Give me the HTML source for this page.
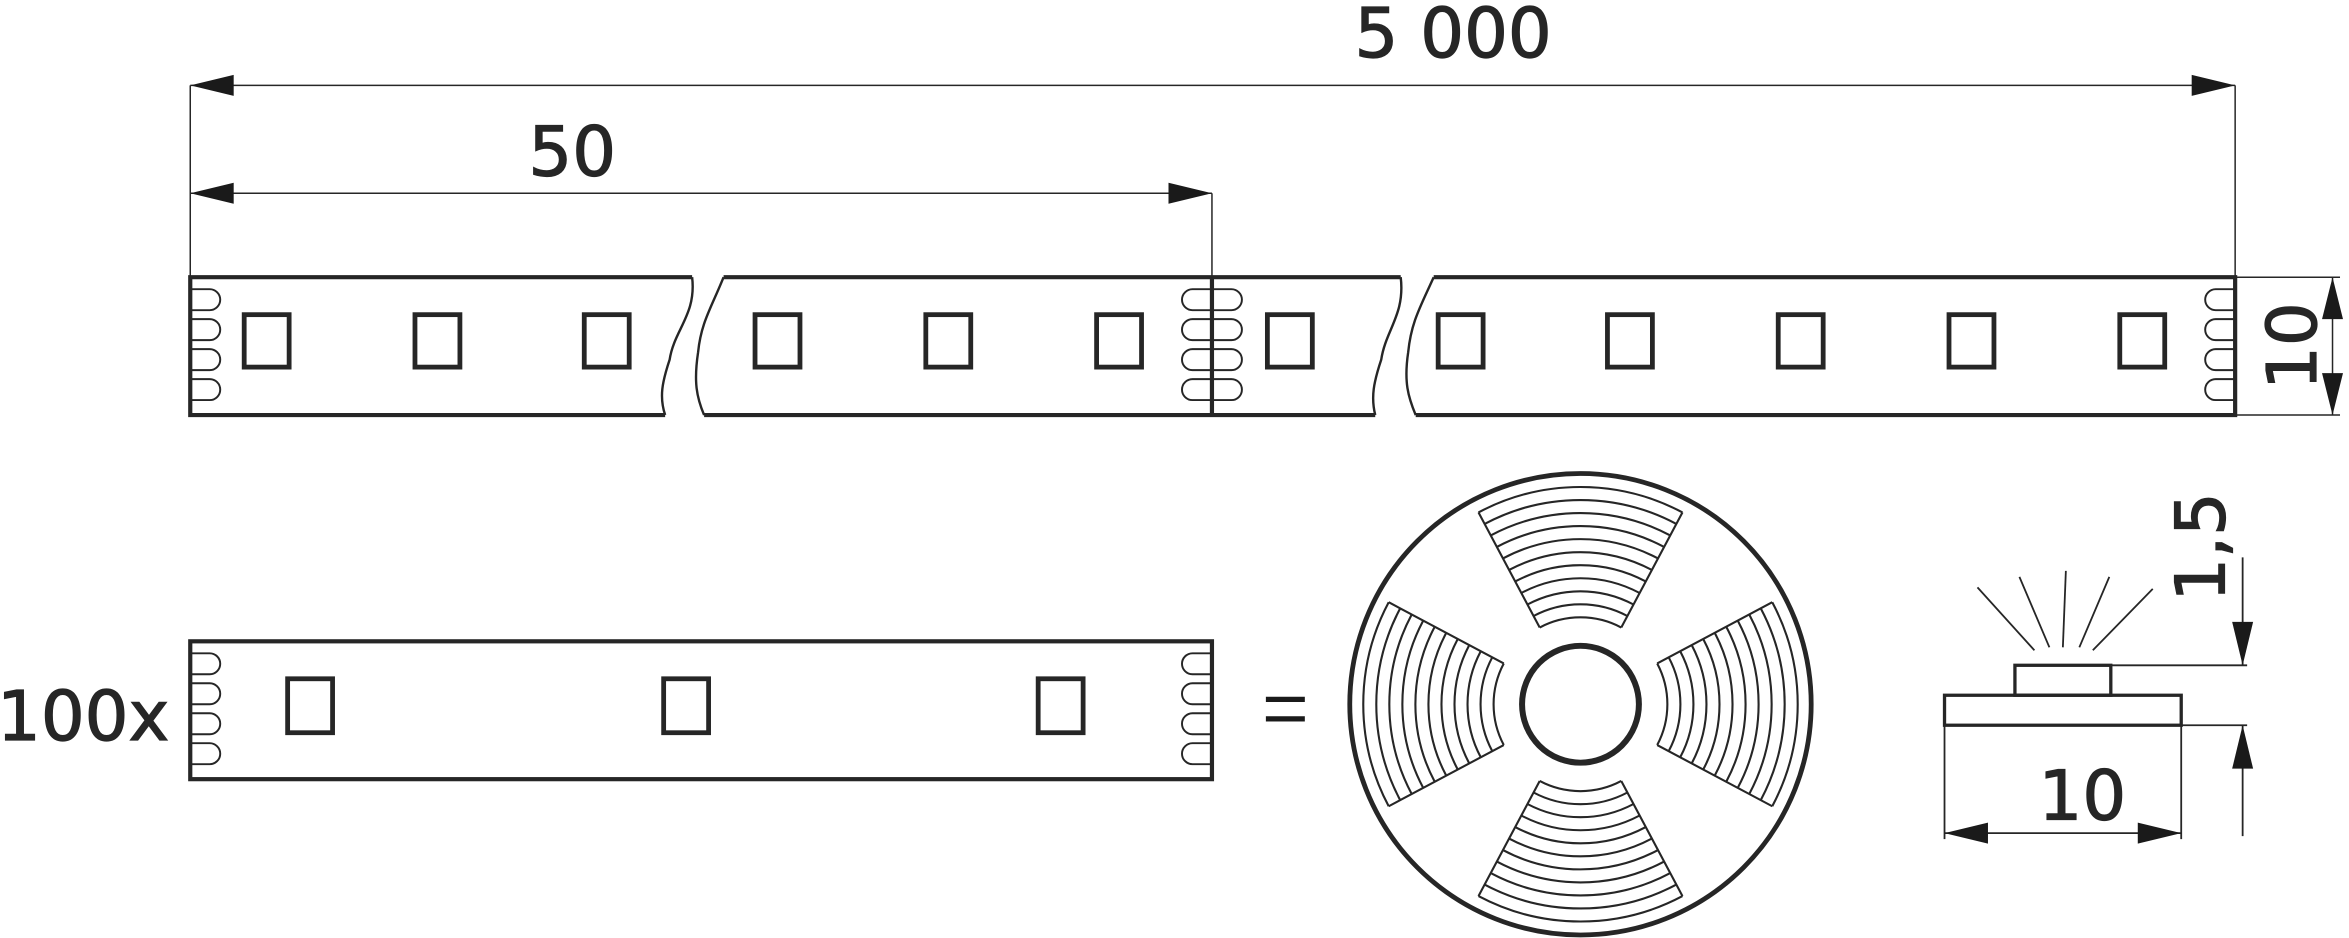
<!DOCTYPE html>
<html><head><meta charset="utf-8"><style>
html,body{margin:0;padding:0;background:#fff;}
svg{display:block;}
text{font-family:"DejaVu Sans","Liberation Sans",sans-serif;fill:#262626;}
</style></head><body>
<svg width="2349" height="938" viewBox="0 0 1568 626" preserveAspectRatio="none" xmlns="http://www.w3.org/2000/svg">
<defs>
<g id="pads" fill="none" stroke="#262626" stroke-width="1.3">
<path d="M0 193 h13 a7 7 0 0 1 0 14 h-13"/>
<path d="M0 213 h13 a7 7 0 0 1 0 14 h-13"/>
<path d="M0 233 h13 a7 7 0 0 1 0 14 h-13"/>
<path d="M0 253 h13 a7 7 0 0 1 0 14 h-13"/>
</g>
<g id="padsL" fill="none" stroke="#262626" stroke-width="1.3">
<path d="M20 193 h-13 a7 7 0 0 0 0 14 h13"/>
<path d="M20 213 h-13 a7 7 0 0 0 0 14 h13"/>
<path d="M20 233 h-13 a7 7 0 0 0 0 14 h13"/>
<path d="M20 253 h-13 a7 7 0 0 0 0 14 h13"/>
</g>
<g id="wedge" fill="none" stroke="#262626" stroke-width="1.4">
<path d="M-27.23 -51.21 L-68.08 -128.02 M27.23 -51.21 L68.08 -128.02"/>
<path d="M-27.23 -51.21 A58 58 0 0 1 27.23 -51.21"/>
<path d="M-31.32 -58.89 A66.7 66.7 0 0 1 31.32 -58.89"/>
<path d="M-35.40 -66.57 A75.4 75.4 0 0 1 35.40 -66.57"/>
<path d="M-39.48 -74.25 A84.1 84.1 0 0 1 39.48 -74.25"/>
<path d="M-43.57 -81.93 A92.8 92.8 0 0 1 43.57 -81.93"/>
<path d="M-47.65 -89.61 A101.5 101.5 0 0 1 47.65 -89.61"/>
<path d="M-51.74 -97.30 A110.2 110.2 0 0 1 51.74 -97.30"/>
<path d="M-55.82 -104.98 A118.9 118.9 0 0 1 55.82 -104.98"/>
<path d="M-59.91 -112.66 A127.6 127.6 0 0 1 59.91 -112.66"/>
<path d="M-63.99 -120.34 A136.3 136.3 0 0 1 63.99 -120.34"/>
<path d="M-68.08 -128.02 A145 145 0 0 1 68.08 -128.02"/>
</g>
</defs>
<g stroke="#262626" fill="none">
<line x1="127" y1="57" x2="1492" y2="57" stroke-width="1"/>
<line x1="127" y1="57" x2="127" y2="185" stroke-width="1"/>
<line x1="1492" y1="57" x2="1492" y2="185" stroke-width="1"/>
<line x1="127" y1="129" x2="809" y2="129" stroke-width="1"/>
<line x1="809" y1="129" x2="809" y2="185" stroke-width="1"/>
<g stroke-width="2.8">
<path d="M462 185 H127 V277 H444"/>
<path d="M483 185 H935"/>
<path d="M470 277 H918"/>
<path d="M957 185 H1492 V277 H945"/>
<line x1="809" y1="185" x2="809" y2="277"/>
</g>
<g stroke-width="1.6">
<path d="M462 185 C465 210 450 220 447 240 C442 255 440 265 444 277"/>
<path d="M483 185 C475 205 468 215 466 235 C463 255 465 265 470 277"/>
<path d="M935 185 C938 210 925 220 922 240 C917 255 915 265 918 277"/>
<path d="M957 185 C948 205 942 215 940 235 C937 255 940 265 945 277"/>
</g>
<g stroke-width="3.2">
<rect x="163" y="210" width="30" height="35"/><rect x="277" y="210" width="30" height="35"/>
<rect x="390" y="210" width="30" height="35"/><rect x="504" y="210" width="30" height="35"/>
<rect x="618" y="210" width="30" height="35"/><rect x="732" y="210" width="30" height="35"/>
<rect x="846" y="210" width="30" height="35"/><rect x="960" y="210" width="30" height="35"/>
<rect x="1073" y="210" width="30" height="35"/><rect x="1187" y="210" width="30" height="35"/>
<rect x="1301" y="210" width="30" height="35"/><rect x="1415" y="210" width="30" height="35"/>
</g>
<line x1="1492" y1="185" x2="1562" y2="185" stroke-width="1"/>
<line x1="1492" y1="277" x2="1562" y2="277" stroke-width="1"/>
<line x1="1557" y1="185" x2="1557" y2="277" stroke-width="1"/>
<rect x="127" y="428" width="682" height="92" stroke-width="2.8"/>
<g stroke-width="3.2">
<rect x="192" y="453" width="30" height="36"/><rect x="443" y="453" width="30" height="36"/><rect x="693" y="453" width="30" height="36"/>
</g>
<circle cx="1055" cy="470" r="154" stroke-width="3.2"/>
<circle cx="1055" cy="470" r="39" stroke-width="4"/>
<rect x="1298" y="464" width="158" height="20" stroke-width="2.2"/>
<rect x="1345" y="444" width="64" height="20" stroke-width="2.2"/>
<g stroke-width="1.2">
<line x1="1320" y1="392" x2="1358" y2="434"/><line x1="1348" y1="385" x2="1368" y2="432"/>
<line x1="1379" y1="381" x2="1377" y2="432"/><line x1="1408" y1="385" x2="1388" y2="432"/>
<line x1="1437" y1="393" x2="1397" y2="434"/>
<line x1="1409" y1="444" x2="1500" y2="444"/><line x1="1456" y1="484" x2="1500" y2="484"/>
<line x1="1497" y1="372" x2="1497" y2="444"/><line x1="1497" y1="484" x2="1497" y2="558"/>
<line x1="1298" y1="484" x2="1298" y2="560"/><line x1="1456" y1="484" x2="1456" y2="560"/>
<line x1="1298" y1="556" x2="1456" y2="556"/>
</g>
</g>
<use href="#wedge" transform="translate(1055,470)"/>
<use href="#wedge" transform="translate(1055,470) rotate(90)"/>
<use href="#wedge" transform="translate(1055,470) rotate(180)"/>
<use href="#wedge" transform="translate(1055,470) rotate(270)"/>
<use href="#pads" x="127" y="0"/>
<use href="#padsL" x="789" y="0"/>
<use href="#pads" x="809" y="0"/>
<use href="#padsL" x="1472" y="0"/>
<use href="#pads" x="127" y="243"/>
<use href="#padsL" x="789" y="243"/>
<g fill="#1a1a1a">
<polygon points="127,57 156,50 156,64"/><polygon points="1492,57 1463,50 1463,64"/>
<polygon points="127,129 156,122 156,136"/><polygon points="809,129 780,122 780,136"/>
<polygon points="1557,185 1550,213 1564,213"/><polygon points="1557,277 1550,249 1564,249"/>
<polygon points="1497,444 1490,415 1504,415"/><polygon points="1497,484 1490,513 1504,513"/>
<polygon points="1298,556 1327,549 1327,563"/><polygon points="1456,556 1427,549 1427,563"/>
<rect x="845" y="465" width="26" height="3.5"/><rect x="845" y="478" width="26" height="3.5"/>
</g>
<text x="970" y="38" font-size="46" text-anchor="middle" stroke="#262626" stroke-width="0.8">5 000</text>
<text x="382" y="117" font-size="46" text-anchor="middle" stroke="#262626" stroke-width="0.8">50</text>
<text x="-2" y="494" font-size="46" stroke="#262626" stroke-width="0.8">100x</text>
<text x="1390" y="547" font-size="46" text-anchor="middle" stroke="#262626" stroke-width="0.8">10</text>
<text transform="translate(1546,231) rotate(-90)" font-size="46" text-anchor="middle" stroke="#262626" stroke-width="0.8">10</text>
<text transform="translate(1485,365) rotate(-90)" font-size="46" text-anchor="middle" stroke="#262626" stroke-width="0.8">1,5</text>
</svg>
</body></html>
